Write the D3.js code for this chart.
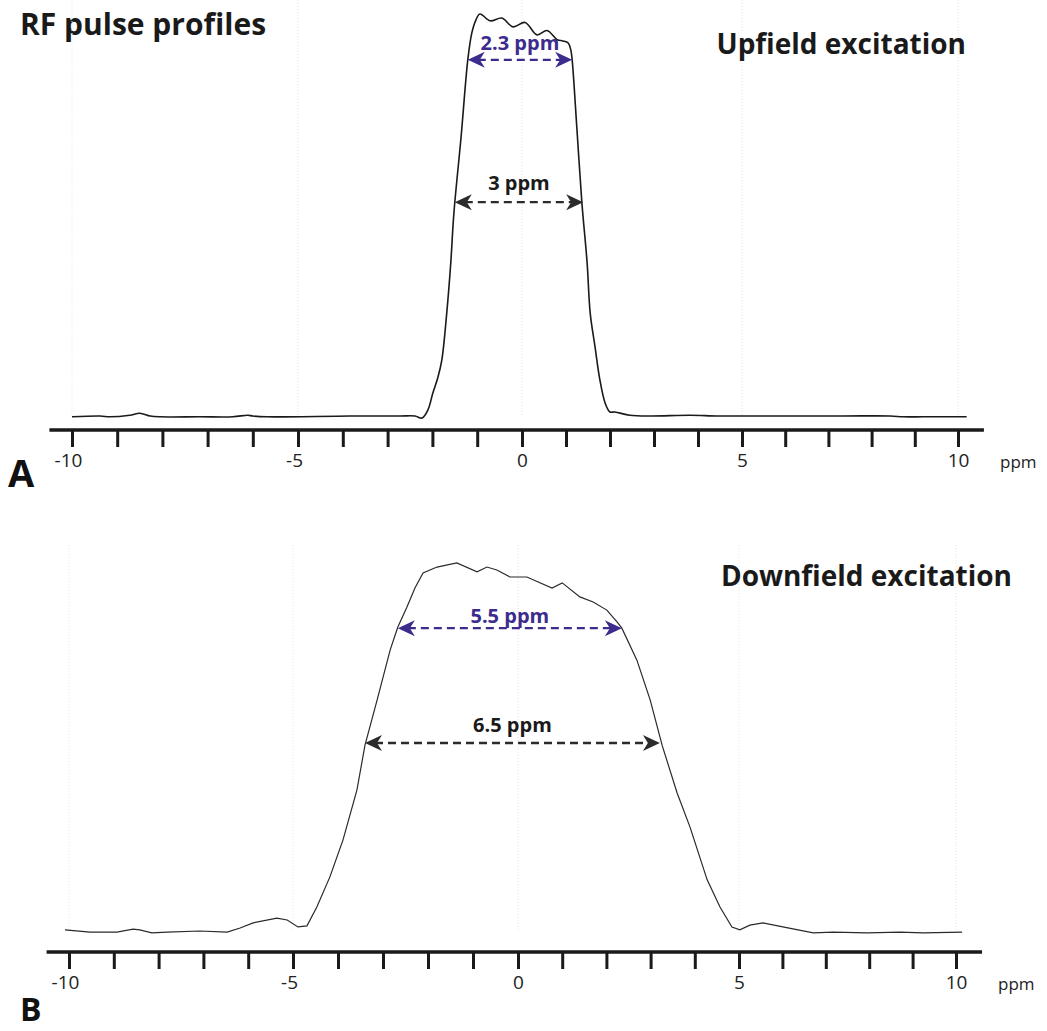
<!DOCTYPE html>
<html>
<head>
<meta charset="utf-8">
<script src="https://cdn.jsdelivr.net/npm/d3@7"></script>
<style>
body { margin: 0; background: #fff; }
text { font-family: "Open Sans", sans-serif; }
</style>
</head>
<body>
<script>
const width = 1047;
const height = 1031;

const tickValues = [-10, -9, -8, -7, -6, -5, -4, -3, -2, -1, 0, 1, 2, 3, 4, 5, 6, 7, 8, 9, 10];
const labelTicks = [-10, -5, 0, 5, 10];
const unitLabel = "ppm";

// panel A : upfield excitation profile (ppm, relative amplitude)
const upPpm = [-10.0, -9.38, -9.16, -8.72, -8.50, -8.27, -8.05, -7.17, -6.44, -6.11, -6.00, -5.69,
  -3.84, -2.72, -2.39, -2.23, -2.10, -1.99, -1.88, -1.79, -1.68, -1.59, -1.52, -1.36, -1.21,
  -1.12, -1.03, -0.94, -0.71, -0.45, -0.20, 0.07, 0.34, 0.57, 0.80, 0.93, 1.05, 1.11, 1.14,
  1.25, 1.36, 1.48, 1.55, 1.66, 1.77, 1.89, 2.00, 2.11, 2.45, 2.91, 3.82, 4.43, 5.02, 7.34,
  8.43, 8.73, 9.19, 10.2];
const upAmp = [-0.002, 0.000, -0.002, 0.002, 0.007, 0.000, -0.002, -0.002, -0.002, 0.002, 0.000, -0.002,
  0.000, 0.000, 0.000, -0.005, 0.015, 0.057, 0.095, 0.139, 0.256, 0.381, 0.505, 0.694, 0.886,
  0.953, 0.985, 1.000, 0.983, 0.990, 0.968, 0.979, 0.948, 0.959, 0.936, 0.933, 0.928, 0.910, 0.886,
  0.711, 0.532, 0.381, 0.256, 0.172, 0.090, 0.032, 0.010, 0.010, 0.002, 0.000, 0.002, 0.000, 0.000, 0.000,
  0.000, -0.002, -0.002, -0.002];

// panel B : downfield excitation profile
const downPpm = [-10.09, -9.53, -8.93, -8.57, -8.42, -8.15, -7.81, -7.08, -6.47, -6.18, -5.89, -5.36,
  -5.13, -4.89, -4.69, -4.47, -4.18, -3.89, -3.58, -3.40, -3.13, -2.84, -2.67, -2.47, -2.29,
  -2.11, -1.80, -1.36, -0.91, -0.69, -0.47, -0.18, 0.20, 0.77, 1.00, 1.40, 1.70, 2.01, 2.24,
  2.35, 2.69, 2.99, 3.26, 3.60, 3.89, 4.28, 4.57, 4.84, 5.02, 5.25, 5.55, 6.01, 6.71, 7.17,
  7.95, 8.71, 9.24, 10.14];
const downAmp = [0.003, -0.003, -0.003, 0.005, 0.003, -0.005, -0.003, 0.000, -0.003, 0.008, 0.022, 0.035,
  0.030, 0.011, 0.014, 0.065, 0.147, 0.247, 0.383, 0.505, 0.628, 0.764, 0.826, 0.880, 0.932,
  0.973, 0.989, 1.000, 0.976, 0.989, 0.981, 0.962, 0.962, 0.932, 0.946, 0.908, 0.894, 0.872, 0.840,
  0.823, 0.736, 0.628, 0.505, 0.375, 0.283, 0.139, 0.065, 0.011, 0.003, 0.016, 0.022, 0.011, -0.005, -0.003,
  -0.005, -0.003, -0.005, -0.003];

// bandwidth markers
const upWidthLabels = ["2.3 ppm", "3 ppm"];
const upWidthFrom = [-1.21, -1.50];
const upWidthTo = [1.14, 1.39];
const upWidthLevel = [0.886, 0.532];

const downWidthLabels = ["5.5 ppm", "6.5 ppm"];
const downWidthFrom = [-2.67, -3.40];
const downWidthTo = [2.35, 3.21];
const downWidthLevel = [0.823, 0.511];

const markerColors = ["#3d2b8e", "#2b2b2b"];
const markerTextColors = ["#3d2b8e", "#1a1a1a"];

const svg = d3.select("body")
    .append("svg")
    .attr("width", width)
    .attr("height", height);

svg.append("text")
    .attr("x", 20)
    .attr("y", 35)
    .attr("font-size", 30)
    .attr("font-weight", 700)
    .attr("fill", "#1a1a1a")
    .text("RF pulse profiles");

function drawPanel(p) {
    const x = d3.scaleLinear().domain(labelTicks).range(p.xRange);
    const y = d3.scaleLinear().domain([0, 1]).range(p.yRange);

    const g = svg.append("g");

    // faint dotted guides
    g.selectAll(".guide")
        .data(labelTicks)
        .join("line")
        .attr("x1", d => x(d))
        .attr("x2", d => x(d))
        .attr("y1", p.guideTop)
        .attr("y2", y(0))
        .attr("stroke", "#e4e4e4")
        .attr("stroke-width", 1)
        .attr("stroke-dasharray", "1,2");

    const line = d3.line()
        .x(d => x(d[0]))
        .y(d => y(d[1]))
        .curve(p.curve);

    g.append("path")
        .datum(p.ppm.map((v, i) => [v, p.amp[i]]))
        .attr("d", line)
        .attr("fill", "none")
        .attr("stroke", p.lineColor)
        .attr("stroke-width", p.lineWidth);

    // axis
    const axis = d3.axisBottom(x)
        .tickValues(tickValues)
        .tickSizeInner(17)
        .tickSizeOuter(0)
        .tickPadding(7)
        .tickFormat(d => labelTicks.includes(d) ? d3.format("")(d).replace("−", "-") : "");

    const ax = g.append("g")
        .attr("transform", "translate(0," + p.axisY + ")")
        .call(axis);

    ax.select(".domain").remove();
    ax.selectAll(".tick line")
        .attr("stroke", "#1a1a1a")
        .attr("stroke-width", 3);
    ax.selectAll(".tick text")
        .attr("font-family", "Open Sans, sans-serif")
        .attr("font-size", 19)
        .attr("fill", "#222")
        .attr("dx", d => d < 0 ? -4 : 0);

    ax.append("line")
        .attr("x1", x(-10.5))
        .attr("x2", x(10.6))
        .attr("y1", 0)
        .attr("y2", 0)
        .attr("stroke", "#1a1a1a")
        .attr("stroke-width", 3.5);

    ax.append("text")
        .attr("x", x(10) + 42)
        .attr("y", 38)
        .attr("font-size", 17)
        .attr("fill", "#222")
        .attr("text-anchor", "start")
        .text(unitLabel);

    // bandwidth arrows
    p.labels.forEach((lab, i) => {
        const x1 = x(p.from[i]);
        const x2 = x(p.to[i]);
        const yy = y(p.level[i]);
        const col = markerColors[i];

        g.append("line")
            .attr("x1", x1 + 10)
            .attr("x2", x2 - 10)
            .attr("y1", yy)
            .attr("y2", yy)
            .attr("stroke", col)
            .attr("stroke-width", 2.4)
            .attr("stroke-dasharray", "8,5");

        [[x1, -1], [x2, 1]].forEach(([tx, dir]) => {
            g.append("path")
                .attr("d", "M" + tx + "," + yy +
                    "L" + (tx - dir * 17) + "," + (yy - 8) +
                    "L" + (tx - dir * 12) + "," + yy +
                    "L" + (tx - dir * 17) + "," + (yy + 8) + "Z")
                .attr("fill", col);
        });

        g.append("text")
            .attr("x", (x1 + x2) / 2)
            .attr("y", yy - p.labelGap[i])
            .attr("text-anchor", "middle")
            .attr("font-size", 20)
            .attr("font-weight", 700)
            .attr("fill", markerTextColors[i])
            .text(lab);
    });

    g.append("text")
        .attr("x", p.titleX)
        .attr("y", p.titleY)
        .attr("text-anchor", "end")
        .attr("font-size", 28)
        .attr("font-weight", 700)
        .attr("fill", "#1a1a1a")
        .text(p.title);

    g.append("text")
        .attr("x", p.letterX)
        .attr("y", p.letterY)
        .attr("font-size", p.letterSize)
        .attr("font-weight", 700)
        .attr("fill", "#111")
        .text(p.letter);
}

drawPanel({
    xRange: [72, 298, 522, 742, 958],
    yRange: [416, 14],
    axisY: 430,
    guideTop: 0,
    ppm: upPpm,
    amp: upAmp,
    curve: d3.curveCatmullRom,
    lineColor: "#1a1a1a",
    lineWidth: 1.6,
    labels: upWidthLabels,
    from: upWidthFrom,
    to: upWidthTo,
    level: upWidthLevel,
    labelGap: [10, 12],
    title: "Upfield excitation",
    titleX: 966,
    titleY: 54,
    letter: "A",
    letterX: 8,
    letterY: 487,
    letterSize: 38
});

drawPanel({
    xRange: [69, 293, 518, 739, 956],
    yRange: [931, 563],
    axisY: 952,
    guideTop: 545,
    ppm: downPpm,
    amp: downAmp,
    curve: d3.curveLinear,
    lineColor: "#2a2a2a",
    lineWidth: 1.2,
    labels: downWidthLabels,
    from: downWidthFrom,
    to: downWidthTo,
    level: downWidthLevel,
    labelGap: [5, 11],
    title: "Downfield excitation",
    titleX: 1012,
    titleY: 586,
    letter: "B",
    letterX: 20,
    letterY: 1021,
    letterSize: 32
});
</script>
</body>
</html>
